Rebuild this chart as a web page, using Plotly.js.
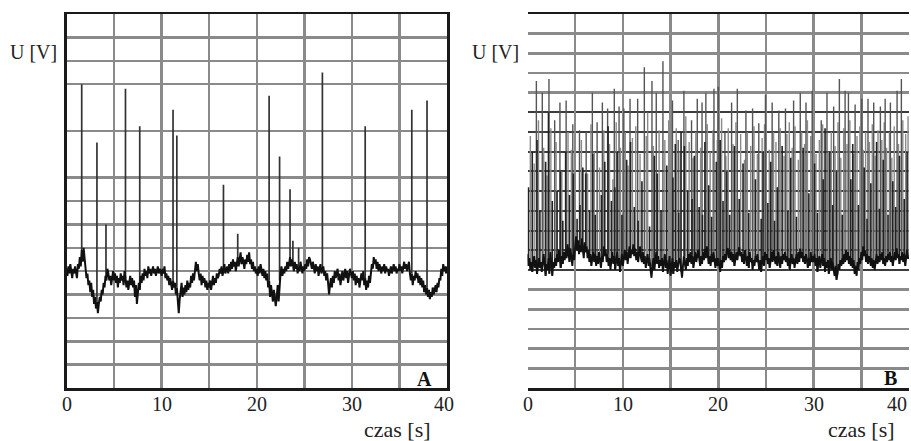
<!DOCTYPE html>
<html>
<head>
<meta charset="utf-8">
<script src="https://cdn.plot.ly/plotly-3.0.1.min.js"></script>
<style>html,body{margin:0;padding:0;background:#fff;}#chart{width:911px;height:441px;}</style>
</head>
<body>
<div id="chart"></div>
<script>
// ---- data ----
const SAMPLE_STEP = 0.1; // s between baseline samples
const xTickLabels = ['0', '10', '20', '30', '40'];
const xTickValues = [0, 10, 20, 30, 40];

// Panel A: baseline signal, U [V] every 0.1 s from 0 to 40 s
const baseA = [
  5.1, 4.8, 5.2, 4.9, 5.3, 5.0, 4.7, 5.1, 4.9, 5.2,
  5.0, 4.7, 5.3, 5.1, 5.6, 5.2, 5.9, 5.4, 6.0, 5.5,
  5.1, 4.7, 4.9, 4.4, 4.6, 4.1, 4.5, 3.9, 4.2, 3.6,
  3.9, 3.4, 3.7, 3.2, 3.6, 3.9, 3.7, 4.2, 4.0, 4.5,
  4.3, 4.8, 4.6, 5.1, 4.9, 4.6, 4.8, 4.4, 4.7, 5.0,
  4.6, 4.9, 4.5, 4.8, 4.3, 4.7, 4.5, 4.9, 4.6, 4.8,
  4.4, 5.0, 4.7, 4.3, 4.6, 4.2, 4.5, 4.8, 4.4, 4.7,
  4.3, 4.6, 3.9, 4.4, 3.6, 4.1, 4.5, 4.2, 4.8, 4.5,
  4.9, 4.6, 5.1, 4.8, 5.0, 4.7, 5.2, 4.9, 5.1, 4.8,
  5.0, 5.2, 4.9, 5.1, 4.8, 5.0, 5.2, 4.9, 5.1, 5.0,
  4.8, 5.1, 4.9, 5.2, 4.7, 4.9, 4.6, 4.8, 4.4, 4.7,
  4.5, 4.2, 4.6, 4.3, 4.5, 4.0, 4.3, 3.6, 3.2, 3.8,
  4.1, 4.5, 3.9, 4.3, 4.0, 4.4, 4.1, 4.6, 4.2, 4.5,
  4.3, 4.8, 4.5, 4.9, 4.6, 5.1, 5.4, 5.0, 5.3, 4.9,
  4.6, 4.9, 4.4, 4.8, 4.5, 4.7, 4.3, 4.6, 4.2, 4.5,
  4.3, 4.6, 4.2, 4.5, 4.8, 4.4, 4.7, 4.5, 4.9, 4.7,
  4.8, 5.1, 4.9, 5.2, 4.8, 5.0, 5.3, 4.9, 5.1, 5.2,
  4.9, 5.3, 5.0, 5.4, 5.1, 5.5, 5.2, 5.4, 5.0, 5.3,
  5.6, 5.2, 5.5, 5.8, 5.3, 5.6, 5.4, 5.1, 5.5, 5.3,
  5.7, 5.4, 5.8, 5.3, 5.5, 5.1, 5.4, 5.0, 5.2, 4.9,
  5.1, 4.8, 5.2, 4.9, 5.3, 5.0, 4.8, 5.1, 4.7, 5.0,
  4.6, 4.9, 4.3, 4.6, 3.9, 4.4, 4.0, 3.7, 4.2, 3.8,
  3.5, 3.9, 4.4, 3.7, 4.6, 4.9, 5.2, 4.8, 5.1, 4.9,
  5.2, 5.0, 5.4, 5.1, 5.3, 5.6, 5.2, 5.5, 5.3, 5.0,
  5.4, 5.1, 5.3, 4.9, 5.2, 5.0, 5.4, 5.1, 4.9, 5.2,
  5.0, 5.3, 5.1, 5.5, 5.2, 5.6, 5.5, 5.3, 5.1, 5.4,
  5.2, 4.9, 5.3, 5.0, 5.2, 4.8, 5.1, 5.3, 4.9, 5.1,
  5.2, 4.8, 5.0, 4.6, 4.9, 4.5, 4.0, 4.4, 4.7, 4.3,
  4.8, 4.5, 5.0, 4.7, 4.9, 5.1, 4.6, 4.9, 4.4, 4.8,
  5.0, 4.6, 4.9, 5.1, 4.7, 5.0, 4.5, 4.8, 5.1, 4.9,
  4.7, 5.0, 4.6, 4.9, 4.4, 4.8, 4.5, 4.7, 4.3, 4.6,
  4.9, 4.6, 5.0, 4.4, 4.7, 4.2, 4.6, 4.3, 4.8, 4.5,
  4.9, 5.3, 5.1, 5.6, 5.3, 5.5, 5.1, 5.4, 5.0, 5.3,
  5.1, 4.9, 5.2, 5.0, 5.3, 4.9, 5.2, 5.0, 5.1, 4.8,
  5.0, 5.2, 4.9, 5.1, 5.3, 5.0, 5.2, 4.9, 5.1, 5.0,
  5.3, 5.0, 5.2, 4.9, 5.1, 5.4, 5.1, 5.3, 5.0, 5.2,
  5.4, 4.9, 4.6, 4.9, 4.4, 4.8, 4.6, 5.0, 4.7, 4.9,
  4.5, 4.8, 4.4, 4.7, 4.3, 4.6, 4.1, 4.4, 4.0, 4.3,
  3.9, 4.2, 3.8, 4.1, 3.9, 4.3, 4.0, 4.2, 4.4, 4.1,
  4.5, 4.3, 4.7, 4.6, 5.1, 4.8, 5.3, 5.0, 5.2, 4.9,
  5.2
];
// Panel A spikes: time [s] and peak [V]
const spikeTA = [1.6, 3.2, 4.15, 6.2, 7.7, 11.2, 11.6, 16.5, 18.0, 21.3, 22.4, 23.5, 23.8, 24.4, 26.9, 31.4, 36.3, 37.9];
const spikeVA = [13.0, 10.5, 7.0, 12.8, 11.2, 11.9, 10.8, 8.7, 6.6, 12.5, 9.9, 8.5, 6.3, 6.0, 13.5, 11.2, 11.9, 12.3];

// Panel B: baseline signal, every 0.1 s
const baseB = [
  6.8, 6.2, 6.6, 6.0, 6.4, 5.9, 6.3, 6.7, 6.1, 6.5,
  5.8, 6.2, 6.6, 6.1, 6.4, 5.9, 6.3, 6.8, 6.2, 5.7,
  6.3, 6.0, 6.6, 5.8, 6.9, 6.3, 5.7, 6.4, 6.1, 6.6,
  6.2, 6.8, 6.4, 7.0, 6.5, 6.1, 6.7, 6.3, 6.9, 6.5,
  7.0, 6.6, 7.3, 6.8, 6.4, 7.1, 6.7, 6.2, 6.9, 6.5,
  7.2, 7.7, 7.0, 7.5, 6.8, 7.3, 6.9, 7.6, 7.0, 6.6,
  7.4, 6.9, 7.2, 6.6, 7.0, 6.4, 6.8, 6.2, 6.6, 6.9,
  6.4, 6.8, 6.2, 6.7, 6.3, 6.9, 6.5, 6.1, 6.7, 6.4,
  7.2, 6.7, 7.0, 6.4, 6.8, 6.2, 6.6, 6.0, 6.5, 6.9,
  6.3, 6.7, 6.0, 6.5, 6.9, 6.2, 6.6, 5.9, 6.4, 6.8,
  6.2, 6.6, 7.0, 6.5, 6.9, 6.3, 6.7, 7.2, 6.6, 7.0,
  6.8, 7.3, 6.7, 7.1, 6.5, 6.9, 6.4, 6.8, 7.2, 6.6,
  6.4, 6.9, 6.3, 6.7, 6.1, 6.5, 6.8, 6.2, 6.6, 6.0,
  5.6, 6.2, 6.6, 6.0, 6.5, 6.9, 6.3, 6.7, 6.1, 6.5,
  6.2, 6.6, 5.9, 6.4, 6.8, 6.1, 6.5, 5.8, 6.3, 6.7,
  5.7, 6.2, 6.6, 5.8, 6.4, 6.1, 6.5, 5.9, 6.3, 6.6,
  6.5, 5.9, 5.6, 6.2, 6.7, 6.3, 6.0, 6.6, 6.2, 6.8,
  6.4, 6.9, 6.3, 6.7, 6.1, 6.5, 6.9, 6.4, 6.8, 7.0,
  6.6, 6.2, 6.7, 6.3, 6.9, 6.5, 7.1, 6.6, 7.2, 6.8,
  6.3, 6.7, 6.2, 6.8, 6.4, 6.9, 6.5, 6.1, 6.6, 6.2,
  6.6, 6.2, 5.9, 6.5, 6.1, 6.7, 6.4, 6.8, 6.5, 7.0,
  7.1, 6.6, 7.0, 6.5, 6.9, 6.4, 6.8, 6.2, 6.6, 6.9,
  6.5, 7.0, 7.2, 6.7, 6.9, 6.4, 6.8, 6.3, 7.0, 6.6,
  6.2, 6.7, 6.1, 6.9, 6.4, 6.6, 6.0, 6.5, 6.2, 6.7,
  6.4, 6.8, 6.3, 6.0, 6.5, 5.9, 6.4, 6.7, 6.2, 6.9,
  6.5, 6.8, 6.3, 6.6, 6.1, 6.5, 6.9, 6.4, 7.0, 6.6,
  6.3, 6.7, 6.2, 6.9, 6.4, 6.1, 6.7, 6.3, 6.8, 6.5,
  6.9, 6.4, 6.7, 6.2, 6.6, 6.0, 6.5, 6.8, 6.3, 6.6,
  6.1, 6.5, 6.8, 6.3, 6.9, 6.4, 7.1, 6.6, 6.9, 6.4,
  6.7, 6.3, 6.8, 6.5, 6.1, 6.6, 6.2, 6.9, 6.4, 6.7,
  6.4, 6.8, 6.2, 6.6, 5.9, 6.4, 6.7, 6.1, 6.5, 6.8,
  6.2, 6.6, 5.9, 6.4, 6.1, 6.5, 5.8, 6.3, 6.6, 6.0,
  6.4, 6.0, 5.7, 6.2, 5.5, 5.8, 6.3, 6.0, 6.5, 6.2,
  6.6, 6.3, 6.8, 6.4, 7.0, 6.5, 6.9, 6.3, 6.7, 6.2,
  6.6, 6.1, 6.5, 5.8, 6.2, 5.7, 6.4, 6.0, 6.6, 6.3,
  6.9, 6.5, 7.2, 6.7, 7.0, 6.4, 6.8, 6.3, 6.7, 6.5,
  6.2, 6.6, 6.1, 6.5, 6.0, 6.4, 6.8, 6.3, 6.7, 6.4,
  6.8, 6.5, 6.9, 6.3, 6.6, 6.2, 6.7, 6.4, 6.8, 6.5,
  6.9, 6.4, 6.7, 6.2, 6.6, 6.9, 6.5, 7.1, 6.6, 6.8,
  6.3, 6.7, 6.5, 6.9, 6.4, 6.8, 6.2, 6.6, 7.0, 6.6,
  6.6
];
// Panel B tall spikes
const spikeTB = [0.93, 1.55, 2.25, 2.85, 3.4, 4.05, 4.75, 5.45, 6.15, 6.8, 7.3, 7.85, 8.4, 9.1, 9.6, 10.1, 10.75, 11.55, 12.25, 13.05,
  13.5, 14.2, 15.2, 15.8, 16.4, 17.2, 17.8, 18.3, 18.7, 19.55, 20.0, 20.7, 21.4, 22.0, 22.9, 23.6, 24.25, 24.95, 25.65, 26.35,
  27.05, 27.9, 28.6, 29.2, 29.85, 30.8, 31.4, 32.1, 32.7, 33.3, 33.65, 34.35, 35.05, 35.7, 36.3, 37.0, 37.5, 38.05, 38.75, 39.2];
const spikeVB = [15.6, 15.0, 15.7, 13.6, 14.5, 14.6, 13.4, 13.1, 13.0, 15.0, 13.5, 14.5, 14.2, 15.2, 14.3, 14.2, 14.7, 14.7, 16.3, 15.6,
  15.0, 16.6, 14.6, 12.6, 15.1, 13.6, 14.7, 14.5, 15.0, 15.2, 15.3, 13.0, 14.5, 15.2, 14.1, 14.2, 13.45, 14.9, 14.5, 14.1,
  14.2, 14.6, 15.0, 14.5, 15.1, 13.6, 15.0, 14.3, 15.7, 15.1, 15.0, 14.4, 14.7, 14.7, 14.5, 14.3, 14.7, 14.5, 15.1, 15.7];
// Panel B mid (dark) spikes
const spikeTB2 = [0.1, 0.5, 1.0, 1.3, 1.9, 2.2, 2.6, 3.1, 3.45, 3.7, 4.0, 4.4, 4.8, 5.2, 5.5, 5.8, 6.1, 6.5, 6.85, 7.1,
  7.75, 8.1, 8.45, 8.8, 9.15, 9.4, 9.9, 10.4, 10.8, 11.2, 11.6, 12.0, 12.8, 13.3, 13.6, 14.0, 14.6, 15.25, 15.5, 15.85,
  16.1, 16.45, 16.8, 17.25, 17.5, 18.0, 18.35, 18.6, 19.0, 19.3, 19.8, 20.2, 20.5, 20.9, 21.2, 21.7, 22.2, 22.6, 23.2, 23.9,
  24.5, 24.7, 25.2, 25.5, 25.9, 26.2, 26.7, 27.3, 27.6, 28.2, 28.9, 29.5, 30.1, 30.4, 31.0, 31.2, 31.7, 32.0, 32.4, 33.0,
  33.9, 34.1, 34.7, 35.3, 35.6, 36.0, 36.6, 36.9, 37.3, 37.8, 38.3, 38.6, 39.0, 39.5, 39.8];
const spikeVB2 = [10.2, 12.0, 12.6, 9.0, 11.5, 14.0, 9.5, 10.0, 11.0, 8.5, 12.0, 9.8, 10.9, 8.6, 9.3, 11.2, 10.9, 9.0, 11.9, 8.8,
  9.8, 11.5, 13.3, 9.5, 10.2, 12.0, 8.8, 11.6, 12.5, 9.2, 8.5, 10.5, 8.2, 11.8, 10.9, 9.0, 11.3, 10.7, 12.4, 8.9,
  13.0, 12.3, 10.0, 9.6, 11.8, 9.2, 8.8, 12.5, 10.3, 8.7, 11.5, 12.6, 9.5, 11.0, 8.8, 12.3, 9.6, 11.4, 8.9, 10.6,
  8.6, 12.0, 9.4, 11.5, 8.5, 10.2, 12.3, 9.0, 11.7, 8.7, 12.2, 9.9, 11.4, 8.9, 10.6, 13.2, 12.0, 9.3, 11.0, 8.8,
  10.6, 12.4, 9.3, 11.2, 8.6, 10.4, 12.5, 9.1, 11.6, 8.8, 10.5, 9.2, 11.8, 9.6, 12.0];
// Panel B faint (light grey) spikes
const spikeTB3 = [0.3, 0.7, 1.15, 1.7, 2.05, 2.45, 3.0, 3.6, 4.25, 4.6,
  5.0, 5.65, 6.3, 6.65, 7.0, 7.55, 8.0, 8.6, 8.95, 9.3,
  9.75, 10.25, 10.55, 11.0, 11.35, 11.8, 12.45, 12.6, 13.2, 13.8,
  14.4, 14.8, 15.0, 15.6, 16.0, 16.6, 16.95, 17.35, 17.65, 18.15,
  18.85, 19.15, 19.45, 19.9, 20.35, 20.8, 21.05, 21.55, 21.85, 22.35,
  22.75, 23.05, 23.4, 23.75, 24.1, 24.6, 24.85, 25.35, 25.8, 26.05,
  26.5, 26.9, 27.2, 27.45, 27.75, 28.05, 28.4, 28.75, 29.05, 29.35,
  29.7, 30.0, 30.25, 30.6, 30.95, 31.55, 31.85, 32.25, 32.55, 32.85,
  33.15, 33.5, 33.8, 34.2, 34.55, 34.85, 35.2, 35.45, 35.85, 36.15,
  36.45, 36.75, 37.15, 37.4, 37.65, 37.95, 38.2, 38.45, 38.9, 39.35,
  39.65, 39.9];
const spikeVB3 = [12.8, 11.4, 13.6, 12.2, 10.8, 13.2, 12.5, 11.0, 13.0, 12.1,
  11.8, 12.6, 10.9, 13.4, 12.0, 11.2, 13.1, 12.4, 10.6, 13.5,
  12.2, 13.0, 11.3, 12.7, 13.3, 11.9, 12.8, 14.0, 12.3, 13.1,
  12.6, 13.6, 11.5, 13.2, 12.0, 13.8, 12.5, 11.7, 13.0, 12.2,
  13.4, 12.0, 13.1, 12.6, 13.7, 11.8, 13.2, 12.4, 13.5, 12.9,
  11.6, 13.0, 12.3, 13.3, 11.9, 12.7, 13.4, 12.1, 13.0, 12.5,
  13.2, 11.8, 12.9, 13.5, 12.2, 13.3, 11.6, 13.0, 12.4, 13.6,
  12.8, 13.1, 11.9, 12.6, 13.4, 12.0, 13.0, 12.3, 13.5, 11.7,
  13.2, 12.4, 13.6, 11.9, 12.8, 13.3, 12.1, 13.0, 12.5, 13.4,
  11.8, 13.1, 12.6, 13.5, 12.2, 13.0, 11.7, 13.3, 12.4, 13.6,
  12.9, 13.8];

// ---- build traces ----
function baseTimes(vals) { return vals.map((_, i) => i * SAMPLE_STEP); }
function spikeSegments(ts, vs, base) {
  const x = [], y = [];
  ts.forEach((t, i) => {
    const b = base[Math.round(t / SAMPLE_STEP)];
    x.push(t, t, null);
    y.push(b, vs[i], null);
  });
  return {x, y};
}
const sA = spikeSegments(spikeTA, spikeVA, baseA);
const sB = spikeSegments(spikeTB, spikeVB, baseB);
const sB2 = spikeSegments(spikeTB2, spikeVB2, baseB);
const sB3 = spikeSegments(spikeTB3, spikeVB3, baseB);

const traces = [
  {x: sA.x, y: sA.y, xaxis: 'x', yaxis: 'y', mode: 'lines', line: {color: '#333', width: 1.7}, hoverinfo: 'skip'},
  {x: baseTimes(baseA), y: baseA, xaxis: 'x', yaxis: 'y', mode: 'lines', line: {color: '#111', width: 2}, hoverinfo: 'skip'},
  {x: sB3.x, y: sB3.y, xaxis: 'x2', yaxis: 'y2', mode: 'lines', line: {color: '#8a8a8a', width: 1.4}, hoverinfo: 'skip'},
  {x: sB.x, y: sB.y, xaxis: 'x2', yaxis: 'y2', mode: 'lines', line: {color: '#555', width: 1.4}, hoverinfo: 'skip'},
  {x: sB2.x, y: sB2.y, xaxis: 'x2', yaxis: 'y2', mode: 'lines', line: {color: '#222', width: 1.6}, hoverinfo: 'skip'},
  {x: baseTimes(baseB), y: baseB, xaxis: 'x2', yaxis: 'y2', mode: 'lines', line: {color: '#111', width: 1.9}, hoverinfo: 'skip'}
];

const W = 911, H = 441;
const GRID = '#8a8a8a', FRAME = '#1a1a1a';
const serif = 'Liberation Serif';
function xAx(d0, d1) {
  return {domain: [d0 / W, d1 / W], range: [0, 40], tickmode: 'linear', tick0: 0, dtick: 5,
    showticklabels: false, ticks: '', showgrid: true, gridcolor: GRID, gridwidth: 2.5,
    zeroline: false, showline: true, mirror: true, linecolor: FRAME, linewidth: 2.5, fixedrange: true};
}
function yAx(range, vals, darkVals) {
  const ax = {domain: [(H - 388) / H, (H - 14) / H], range: range, tickmode: 'array', tickvals: vals,
    showticklabels: false, ticks: '', showgrid: true, gridcolor: GRID, gridwidth: 2.5,
    zeroline: false, showline: true, mirror: true, linecolor: FRAME, linewidth: 2.5, fixedrange: true};
  if (darkVals) ax.minor = {tickmode: 'array', tickvals: darkVals, showgrid: true, gridcolor: '#3c3c3c', gridwidth: 2, ticks: ''};
  return ax;
}
const gridA = [1, 2, 3, 4, 5, 6, 7, 8, 9, 11, 13, 14, 15];
const gridB = [1, 2, 3, 4, 5, 15, 16, 17, 18];
const gridBdark = [6, 7, 8, 9, 10, 11, 12, 13, 14];

const ann = [];
const tf = {family: serif, size: 20, color: '#222'};
['x', 'x2'].forEach((xr, pi) => {
  xTickValues.forEach((v, i) => {
    const last = (i === xTickValues.length - 1);
    ann.push({x: v, y: 1 - 404 / H, xref: xr, yref: 'paper', text: xTickLabels[i], showarrow: false,
      font: tf, xanchor: (last && pi === 1) ? 'right' : 'center', yanchor: 'middle',
      xshift: (last && pi === 0) ? -3 : 0});
  });
});
ann.push({x: 33.5 / W, y: 1 - 52 / H, xref: 'paper', yref: 'paper', text: 'U [V]', showarrow: false, font: tf, xanchor: 'center', yanchor: 'middle'});
ann.push({x: 495 / W, y: 1 - 52 / H, xref: 'paper', yref: 'paper', text: 'U [V]', showarrow: false, font: tf, xanchor: 'center', yanchor: 'middle'});
ann.push({x: 397.5 / W, y: 1 - 429 / H, xref: 'paper', yref: 'paper', text: 'czas [s]', showarrow: false, font: {family: serif, size: 22, color: '#222'}, xanchor: 'center', yanchor: 'middle'});
ann.push({x: 861 / W, y: 1 - 429 / H, xref: 'paper', yref: 'paper', text: 'czas [s]', showarrow: false, font: {family: serif, size: 22, color: '#222'}, xanchor: 'center', yanchor: 'middle'});
ann.push({x: 424.5 / W, y: 1 - 379 / H, xref: 'paper', yref: 'paper', text: '<b>A</b>', showarrow: false, font: {family: serif, size: 20, color: '#111'}, xanchor: 'center', yanchor: 'middle'});
ann.push({x: 890 / W, y: 1 - 378 / H, xref: 'paper', yref: 'paper', text: '<b>B</b>', showarrow: false, font: {family: serif, size: 20, color: '#111'}, xanchor: 'center', yanchor: 'middle'});

const layout = {
  width: W, height: H, margin: {l: 0, r: 0, t: 0, b: 0},
  font: {family: serif, size: 20, color: '#222'},
  paper_bgcolor: '#fff', plot_bgcolor: '#fff', showlegend: false,
  xaxis: xAx(66.5, 447), yaxis: yAx([0, 16], gridA),
  xaxis2: xAx(527.5, 909), yaxis2: yAx([0, 19], gridB, gridBdark),
  annotations: ann
};
Plotly.newPlot('chart', traces, layout, {displayModeBar: false, staticPlot: true});
</script>
</body>
</html>
